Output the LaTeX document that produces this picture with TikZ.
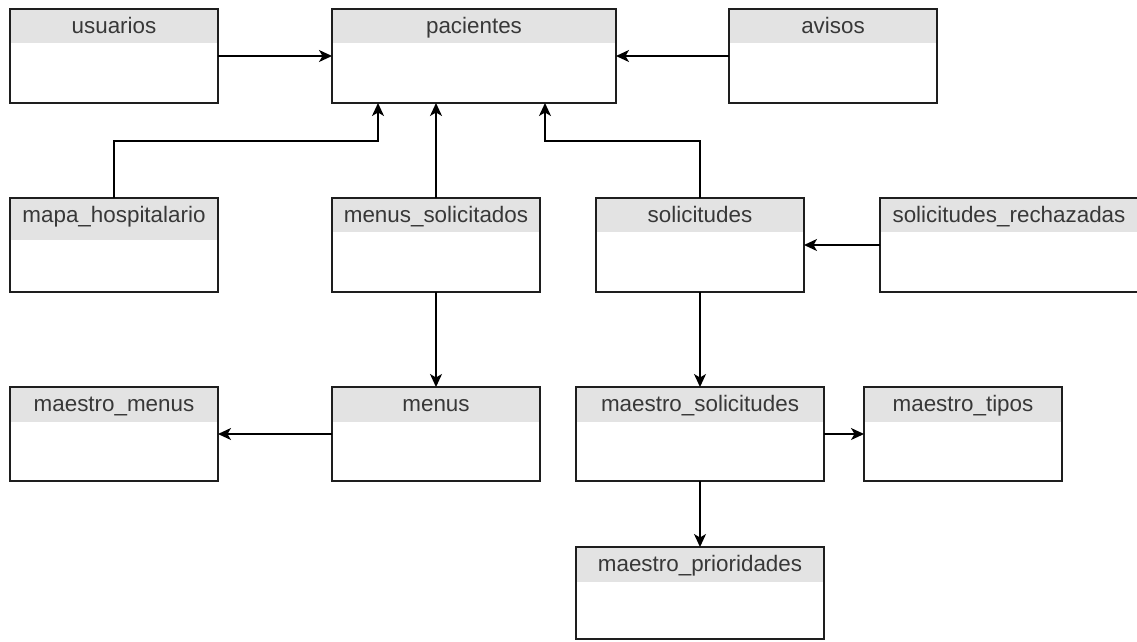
\documentclass[tikz,border=0pt]{standalone}
\usepackage{fontspec}
\setmainfont{Liberation Sans}
\usetikzlibrary{arrows.meta}

\definecolor{cabgris}{HTML}{E3E3E3}
\definecolor{textogris}{HTML}{383838}
\definecolor{bordegris}{HTML}{1E1E1E}

\tikzset{
  tabla/.style={draw=bordegris, line width=1.6pt, fill=white, rectangle,
    inner sep=0pt, outer sep=0pt, minimum height=94pt},
  cabecera/.style={fill=cabgris},
  titulo/.style={text=textogris, inner sep=0pt, font=\fontsize{22.4}{26}\selectfont},
  flecha/.style={draw=black, line width=1.5pt,
    -{Stealth[length=13pt, width=12pt, inset=3.5pt]}},
}

% tabla: [opciones] nombre, x, y (esquina superior izquierda), ancho, alto de cabecera
\newcommand{\tabla}[6][]{%
  \node[tabla, minimum width=#5pt, anchor=north west, #1] (#2) at (#3,#4) {};
  \fill[cabecera] ([shift={(0.8pt,-0.8pt)}]#2.north west)
    rectangle ([shift={(-0.8pt,-#6pt)}]#2.north east);
  \node[titulo, anchor=base] at ([yshift=-24pt]#2.north) {\detokenize{#2}};
}

\begin{document}
\begin{tikzpicture}[x=1pt, y=-1pt]
  \useasboundingbox (0,0) rectangle (1137,641);

  \tabla{usuarios}{10}{9}{208}{34}
  \tabla{pacientes}{332}{9}{284}{34}
  \tabla{avisos}{729}{9}{208}{34}

  \tabla{mapa_hospitalario}{10}{198}{208}{42}
  \tabla{menus_solicitados}{332}{198}{208}{34}
  \tabla{solicitudes}{596}{198}{208}{34}
  \tabla{solicitudes_rechazadas}{880}{198}{258}{34}

  \tabla{maestro_menus}{10}{387}{208}{35}
  \tabla{menus}{332}{387}{208}{35}
  \tabla{maestro_solicitudes}{576}{387}{248}{35}
  \tabla{maestro_tipos}{864}{387}{198}{35}
  \tabla[minimum height=92pt]{maestro_prioridades}{576}{547}{248}{35}

  \draw[flecha] (usuarios) -- (pacientes);
  \draw[flecha] (avisos) -- (pacientes);
  \draw[flecha] (mapa_hospitalario.north) -- ++(0,-57) -| ([xshift=-96pt]pacientes.south);
  \draw[flecha] (menus_solicitados.north) -- (menus_solicitados.north |- pacientes.south);
  \draw[flecha] (solicitudes.north) -- ++(0,-57) -| ([xshift=71pt]pacientes.south);
  \draw[flecha] (solicitudes_rechazadas) -- (solicitudes);
  \draw[flecha] (menus_solicitados) -- (menus);
  \draw[flecha] (menus) -- (maestro_menus);
  \draw[flecha] (solicitudes) -- (maestro_solicitudes);
  \draw[flecha] (maestro_solicitudes) -- (maestro_tipos);
  \draw[flecha] (maestro_solicitudes) -- (maestro_prioridades);
\end{tikzpicture}
\end{document}
